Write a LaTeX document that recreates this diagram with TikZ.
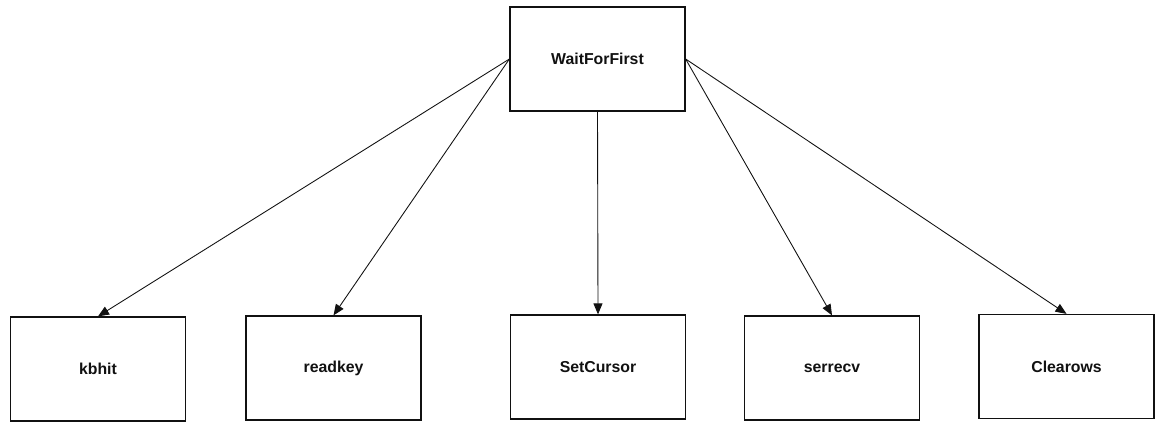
\documentclass[tikz,border=0pt]{standalone}
\usepackage{fontspec}
\setmainfont{Liberation Sans}
\usepackage{xcolor}
\usetikzlibrary{positioning,arrows.meta}
\definecolor{ink}{HTML}{111111}
\tikzset{
  fn/.style = {draw=ink, fill=white, line width=0.7pt, minimum width=3.5cm, minimum height=2.08cm,
               inner sep=2pt, font=\fontsize{9}{11}\selectfont\bfseries, text=ink},
  ar/.style = {-{Triangle[length=2.2mm,width=1.8mm]}, line width=0.5pt, draw=ink},
}
\begin{document}
\begin{tikzpicture}
  \useasboundingbox (0,0) rectangle (23.1,8.46);

  \node[fn] (wait) at (11.95,7.28) {WaitForFirst};

  \node[fn] (kbhit) at (1.96,1.08) {kbhit};
  \node[fn] (rkey) at (6.67,1.10) {readkey};
  \node[fn] (scur) at (11.96,1.12) {SetCursor};
  \node[fn] (srecv) at (16.64,1.10) {serrecv};
  \node[fn] (clr) at (21.33,1.13) {Clearows};

  \draw[ar] (wait.west) -- (kbhit.north);
  \draw[ar] (wait.west) -- (rkey.north);
  \draw[ar] (wait.south) -- (scur.north);
  \draw[ar] (wait.east) -- (srecv.north);
  \draw[ar] (wait.east) -- (clr.north);
\end{tikzpicture}
\end{document}
